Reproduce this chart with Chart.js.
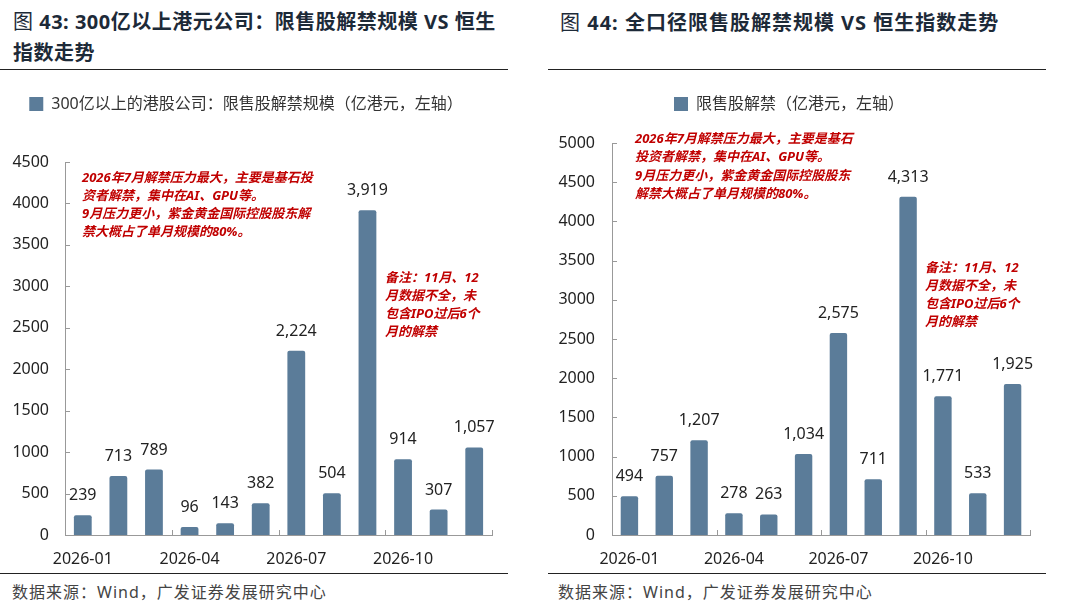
<!DOCTYPE html>
<html><head><meta charset="utf-8">
<script src="https://cdn.jsdelivr.net/npm/chart.js@4.4.1/dist/chart.umd.min.js"></script>
<style>
html,body{margin:0;padding:0;background:#fff;}
body{width:1080px;height:612px;position:relative;overflow:hidden;font-family:"Noto Sans","Noto Sans CJK SC",sans-serif;}
.abs{position:absolute;}
.title{font-family:"Noto Sans","Noto Sans CJK SC",sans-serif;font-size:20px;font-weight:700;color:#1d2a38;letter-spacing:1px;line-height:31px;white-space:nowrap;}
.title .fig{font-weight:400;}
.rule{position:absolute;height:0;border-top:1.5px solid #222;}
.rule2{position:absolute;height:0;border-top:1px solid #222;}
.src{font-family:"Noto Sans","Noto Sans CJK SC",sans-serif;font-size:16px;color:#444;letter-spacing:1px;line-height:20px;white-space:nowrap;}
.note{font-family:"Noto Sans","Noto Sans CJK SC",sans-serif;font-size:13px;font-weight:700;font-style:italic;color:#c00000;line-height:18px;white-space:nowrap;}
</style></head>
<body>
<div class="abs title" style="left:13px;top:6px;letter-spacing:0.5px;"><span class="fig">图</span> 43: 300亿以上港元公司：限售股解禁规模 VS 恒生<br>指数走势</div>
<div class="rule" style="left:0;top:69px;width:508px;"></div>
<div class="abs title" style="left:560px;top:7px;"><span class="fig">图</span> 44: 全口径限售股解禁规模 VS 恒生指数走势</div>
<div class="rule" style="left:548px;top:69px;width:498px;"></div>

<div class="abs" style="left:0;top:85px;width:508px;height:485px;"><canvas id="c1" width="508" height="485"></canvas></div>
<div class="abs" style="left:548px;top:85px;width:498px;height:485px;"><canvas id="c2" width="498" height="485"></canvas></div>

<div class="abs note" style="left:82px;top:168px;">2026年7月解禁压力最大，主要是基石投<br>资者解禁，集中在AI、GPU等。<br>9月压力更小，紫金黄金国际控股股东解<br>禁大概占了单月规模的80%。</div>
<div class="abs note" style="left:385px;top:268px;">备注：11月、12<br>月数据不全，未<br>包含IPO过后6个<br>月的解禁</div>
<div class="abs note" style="left:635px;top:129px;line-height:18.3px;">2026年7月解禁压力最大，主要是基石<br>投资者解禁，集中在AI、GPU等。<br>9月压力更小，紫金黄金国际控股股东<br>解禁大概占了单月规模的80%。</div>
<div class="abs note" style="left:925px;top:258px;">备注：11月、12<br>月数据不全，未<br>包含IPO过后6个<br>月的解禁</div>

<div class="rule2" style="left:0;top:573px;width:508px;"></div>
<div class="rule2" style="left:548px;top:573px;width:498px;"></div>
<div class="abs src" style="left:12px;top:582px;">数据来源：Wind，广发证券发展研究中心</div>
<div class="abs src" style="left:558px;top:582px;">数据来源：Wind，广发证券发展研究中心</div>

<script>
const months = ['2026-01','2026-02','2026-03','2026-04','2026-05','2026-06','2026-07','2026-08','2026-09','2026-10','2026-11','2026-12'];
const largeCapUnlock = [239,713,789,96,143,382,2224,504,3919,914,307,1057];
const allUnlock = [494,757,1207,278,263,1034,2575,711,4313,1771,533,1925];
const leftLegend = '300亿以上的港股公司：限售股解禁规模（亿港元，左轴）';
const rightLegend = '限售股解禁（亿港元，左轴）';
const leftYMax = 4500;
const rightYMax = 5000;
const yStep = 500;

const BAR = '#5b7c99';
const AXIS = '#999';
const FONT = '"Noto Sans","Noto Sans CJK SC",sans-serif';

const valueLabels = {
  id: 'valueLabels',
  afterDatasetsDraw(chart) {
    const ctx = chart.ctx;
    const meta = chart.getDatasetMeta(0);
    const data = chart.data.datasets[0].data;
    ctx.save();
    ctx.font = '16px ' + FONT;
    ctx.fillStyle = '#222';
    ctx.textAlign = 'center';
    ctx.textBaseline = 'alphabetic';
    meta.data.forEach((bar, i) => {
      ctx.fillText(data[i].toLocaleString('en-US'), bar.x, bar.y - 15);
    });
    ctx.restore();
  }
};

const innerTicks = {
  id: 'innerTicks',
  afterDraw(chart) {
    const {ctx, scales: {x, y}, chartArea} = chart;
    ctx.save();
    ctx.strokeStyle = AXIS;
    ctx.lineWidth = 1;
    ctx.beginPath();
    y.ticks.forEach(t => {
      const py = Math.round(y.getPixelForValue(t.value)) + 0.5;
      ctx.moveTo(chartArea.left, py);
      ctx.lineTo(chartArea.left + 5, py);
    });
    for (let k = 3; k <= months.length; k += 3) {
      const px = Math.round(x.getPixelForValue(k - 0.5)) + 0.5;
      ctx.moveTo(px, chartArea.bottom);
      ctx.lineTo(px, chartArea.bottom - 5);
    }
    ctx.stroke();
    ctx.restore();
  }
};

function makeChart(id, values, legendText, yMax, yAxisWidth, yPad, spacer) {
  return new Chart(document.getElementById(id), {
    type: 'bar',
    data: {
      labels: months,
      datasets: [{
        label: legendText,
        data: values,
        backgroundColor: BAR,
        borderRadius: 2,
        borderSkipped: 'bottom',
        barPercentage: 0.5,
        categoryPercentage: 1
      }]
    },
    options: {
      responsive: false,
      animation: false,
      devicePixelRatio: 1,
      layout: {padding: {top: 0, left: 0, right: 16, bottom: 0}},
      plugins: {
        legend: {
          display: true,
          position: 'top',
          labels: {font: {size: 16, family: FONT}, color: '#333', boxWidth: 14, boxHeight: 14, padding: 11}
        },
        title: {display: true, text: '', weight: 500, font: {size: 10, lineHeight: 1}, padding: {top: 0, bottom: spacer}},
        tooltip: {enabled: false}
      },
      scales: {
        x: {
          grid: {display: false, offset: true},
          border: {color: AXIS},
          ticks: {
            autoSkip: false, maxRotation: 0, padding: 7, color: '#222',
            font: {size: 16, family: FONT},
            callback: function (v, i) { return i % 3 === 0 ? this.getLabelForValue(v) : ''; }
          },
          afterFit(s) { s.height = 35; }
        },
        y: {
          min: 0, max: yMax,
          ticks: {stepSize: yStep, padding: yPad, color: '#222', font: {size: 16, family: FONT},
            callback: (v) => String(v)},
          grid: {display: false},
          border: {color: AXIS},
          afterFit(s) { s.width = yAxisWidth; }
        }
      }
    },
    plugins: [valueLabels, innerTicks]
  });
}

makeChart('c1', largeCapUnlock, leftLegend, leftYMax, 65, 8, 30);
makeChart('c2', allUnlock, rightLegend, rightYMax, 64, 9, 11);
</script>
</body></html>
